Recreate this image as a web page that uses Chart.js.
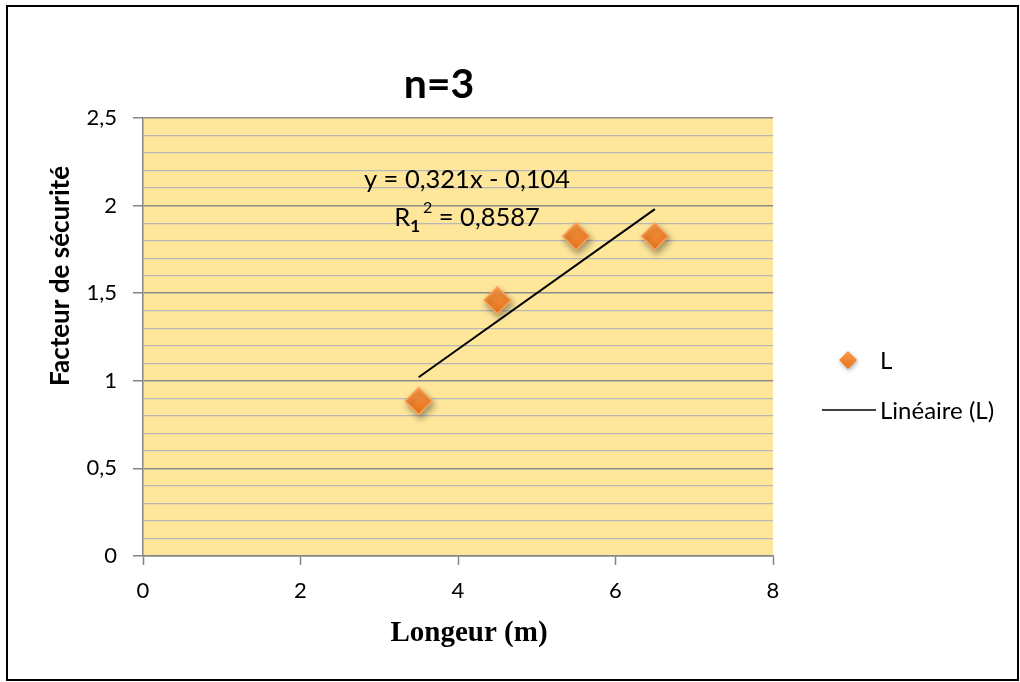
<!DOCTYPE html>
<html>
<head>
<meta charset="utf-8">
<script src="https://cdn.jsdelivr.net/npm/chart.js@4/dist/chart.umd.min.js"></script>
<style>
  html, body { margin:0; padding:0; background:#fff; }
  #wrap { width:1020px; height:682px; position:relative; }
</style>
</head>
<body>
<div id="wrap"><canvas id="c" width="1020" height="682"></canvas></div>
<script>
// data
const lengths = [3.5, 4.5, 5.5, 6.5];
const safety = [0.885, 1.46, 1.825, 1.825];
const trendX = [3.5, 6.5];
const trendY = [1.02, 1.98];
const xTicks = [0, 2, 4, 6, 8];
const chartTitle = 'n=3';
const eqLine1 = 'y = 0,321x - 0,104';
const eqR2 = '0,8587';

const sans = 'Lato, "Open Sans", sans-serif';
const grey = '#868686';

// orange diamond fill, lighter at the top
function diamondFill(c){
  const chart = c.chart;
  if(!chart.chartArea || !c.parsed) return '#F5852A';
  const y = chart.scales.y.getPixelForValue(c.parsed.y);
  const g = chart.ctx.createLinearGradient(0, y-13, 0, y+13);
  g.addColorStop(0, '#FB9A45');
  g.addColorStop(1, '#E8741D');
  return g;
}

// chart area background, shadows, texts & frame
const deco = {
  id: 'deco',
  beforeDraw(chart){
    const {ctx, chartArea:a} = chart;
    ctx.save();
    ctx.fillStyle = '#FEE69B';
    ctx.fillRect(a.left, a.top, a.right-a.left, a.bottom-a.top);
    ctx.restore();
  },
  beforeDatasetDraw(chart, args){
    if(args.index!==0) return;
    const ctx = chart.ctx;
    ctx.save();
    ctx.shadowColor = 'rgba(0,0,0,0.35)';
    ctx.shadowBlur = 6;
    ctx.shadowOffsetX = 2;
    ctx.shadowOffsetY = 4;
  },
  afterDatasetDraw(chart, args){
    if(args.index!==0) return;
    chart.ctx.restore();
  },
  afterDraw(chart){
    const ctx = chart.ctx;
    ctx.save();
    ctx.fillStyle = '#000';
    ctx.textBaseline = 'middle';

    // title
    ctx.textAlign = 'center';
    ctx.font = 'bold 41px ' + sans;
    ctx.fillText(chartTitle, 439, 85);

    // equation
    ctx.font = '25.5px ' + sans;
    ctx.fillText(eqLine1, 467, 180);
    const w1 = ctx.measureText('R').width;
    const rest = ' = ' + eqR2;
    const wRest = ctx.measureText(rest).width;
    ctx.font = 'bold 17px ' + sans;
    const wSub = ctx.measureText('1').width;
    ctx.font = '16px ' + sans;
    const wSup = ctx.measureText('2').width;
    let x = 467 - (w1 + wSub + wSup + 3 + wRest)/2;
    ctx.textAlign = 'left';
    ctx.font = '25.5px ' + sans;
    ctx.fillText('R', x, 218); x += w1;
    ctx.font = 'bold 17px ' + sans;
    ctx.fillText('1', x, 227); x += wSub + 3;
    ctx.font = '16px ' + sans;
    ctx.fillText('2', x, 208); x += wSup;
    ctx.font = '25.5px ' + sans;
    ctx.fillText(rest, x, 218);

    // y title
    ctx.save();
    ctx.translate(61, 276);
    ctx.rotate(-Math.PI/2);
    ctx.textAlign = 'center';
    ctx.font = 'bold 26px ' + sans;
    ctx.fillText('Facteur de sécurité', 0, 0);
    ctx.restore();

    // x title
    ctx.textAlign = 'center';
    ctx.font = 'bold 29px "Liberation Serif", "DejaVu Serif", serif';
    ctx.fillText('Longeur (m)', 469, 634);

    // legend
    ctx.save();
    ctx.shadowColor = 'rgba(0,0,0,0.3)';
    ctx.shadowBlur = 4; ctx.shadowOffsetX = 1; ctx.shadowOffsetY = 2;
    const lg = ctx.createLinearGradient(0, 351, 0, 369);
    lg.addColorStop(0, '#FB9A45'); lg.addColorStop(1, '#E8741D');
    ctx.fillStyle = lg;
    ctx.beginPath();
    ctx.moveTo(848, 351); ctx.lineTo(857, 360); ctx.lineTo(848, 369); ctx.lineTo(839, 360);
    ctx.closePath(); ctx.fill();
    ctx.restore();
    ctx.textAlign = 'left';
    ctx.font = '24px ' + sans;
    ctx.fillText('L', 880, 361);
    ctx.strokeStyle = '#000';
    ctx.lineWidth = 1.5;
    ctx.beginPath(); ctx.moveTo(822, 410); ctx.lineTo(876, 410); ctx.stroke();
    ctx.fillText('Linéaire (L)', 880, 411);

    // frame
    ctx.lineWidth = 2;
    ctx.strokeStyle = '#000';
    ctx.strokeRect(7, 6, 1011, 674);
    ctx.restore();
  }
};

const isMajor = v => Math.abs(v*2 - Math.round(v*2)) < 1e-6;

new Chart(document.getElementById('c'), {
  type: 'scatter',
  data: {
    datasets: [
      {
        label: 'L',
        data: lengths.map((x,i)=>({x, y: safety[i]})),
        pointStyle: 'rectRot',
        pointRadius: 13.5,
        pointHoverRadius: 13.5,
        backgroundColor: diamondFill,
        borderColor: '#FBA55C',
        borderWidth: 1.5
      },
      {
        type: 'line',
        label: 'Linéaire (L)',
        data: trendX.map((x,i)=>({x, y: trendY[i]})),
        borderColor: '#000',
        borderWidth: 2,
        pointRadius: 0,
        fill: false
      }
    ]
  },
  options: {
    responsive: false,
    animation: false,
    events: [],
    layout: { padding: { left: 0, top: 118, right: 247, bottom: 0 } },
    plugins: { legend: { display: false }, title: { display: false }, tooltip: { enabled: false } },
    scales: {
      x: {
        type: 'linear', min: 0, max: 8,
        afterBuildTicks: s => { s.ticks = xTicks.map(v => ({value: v})); },
        afterFit: s => { s.height = 126; },
        grid: { drawOnChartArea: false, tickLength: 9, tickColor: grey, tickWidth: 1.5 },
        border: { color: grey, width: 1.5 },
        ticks: { color: '#000', font: { family: sans, size: 22 }, padding: 13, maxRotation: 0 }
      },
      y: {
        min: 0, max: 2.5,
        afterFit: s => { s.width = 143; },
        grid: {
          tickLength: 10,
          color: c => isMajor(c.tick.value) ? '#8C8C8C' : '#B8B8B8',
          lineWidth: c => isMajor(c.tick.value) ? 1.5 : 1.2,
          tickColor: c => isMajor(c.tick.value) ? grey : 'rgba(0,0,0,0)',
          tickWidth: 1.5
        },
        border: { color: grey, width: 1.5 },
        ticks: {
          stepSize: 0.1, autoSkip: false, maxTicksLimit: 100,
          color: '#000', font: { family: sans, size: 22 }, padding: 16,
          callback: v => isMajor(v) ? String(Math.round(v*2)/2).replace('.', ',') : ''
        }
      }
    }
  },
  plugins: [deco]
});
</script>
</body>
</html>
